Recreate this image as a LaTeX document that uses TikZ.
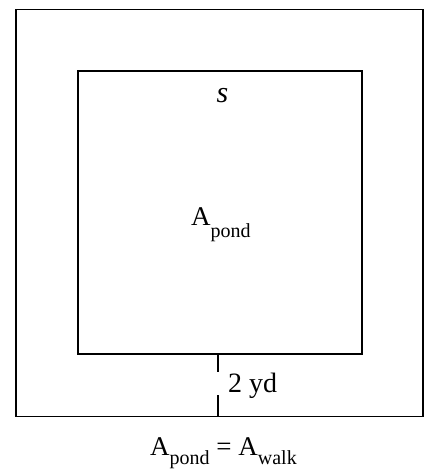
\documentclass[tikz,border=0pt]{standalone}
\usepackage{fontspec}
\setmainfont{Liberation Serif}
\usetikzlibrary{positioning}

\newcommand{\bigA}{\fontsize{27}{27}\selectfont}
\newcommand{\subtxt}[2][-12pt]{\raisebox{#1}{\fontsize{20}{20}\selectfont #2}}

\begin{document}
\begin{tikzpicture}[x=1pt, y=-1pt,
        sq/.style={draw=black, line width=1.6pt},
        lbl/.style={inner sep=0pt, anchor=base west},
        meas/.style={draw=black, line width=1.4pt, dash pattern=on 18pt off 23pt on 21pt off 2pt}
    ]
        \useasboundingbox (0,0) rectangle (430,471);

        % WALK (outer square) and POND (inner square)
        \draw[sq] (16,9.5) rectangle (423,416.5);
        \draw[sq] (78,71) rectangle (362,354);

        % WIDTH OF WALK
        \coordinate (pondedge) at (218,354);
        \coordinate (walkedge) at (218,416.5);
        \draw[meas] (pondedge) -- (walkedge);
        \node[lbl] (width) at (228,392) {\fontsize{28}{28}\selectfont 2 yd};

        % LABELS
        \node[inner sep=0pt] (side) at (222.5,95.5) {\fontsize{30}{30}\selectfont\itshape s};
        \node[lbl] (area) at (191,225) {\bigA A\subtxt{pond}};
        \node[lbl] (eq) at (150,455) {\bigA A\subtxt[-9pt]{pond} = A\subtxt[-9pt]{walk}};
    \end{tikzpicture}
\end{document}
